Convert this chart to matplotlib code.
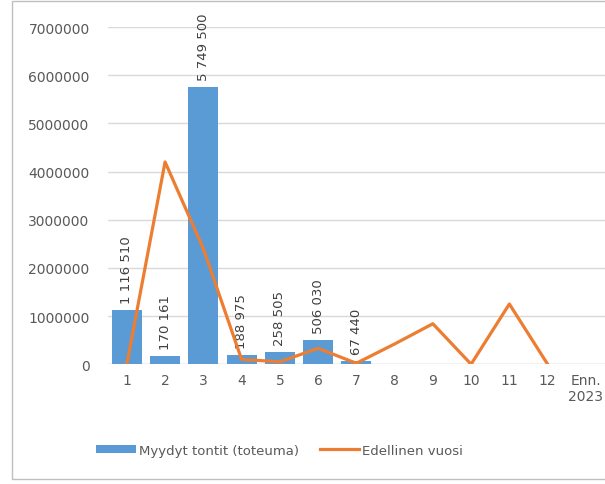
import matplotlib.pyplot as plt
import numpy as np
from matplotlib.patches import Rectangle

categories = ["1", "2", "3", "4", "5", "6", "7", "8", "9", "10", "11", "12", "Enn.\n2023"]
toteuma = [1116510, 170161, 5749500, 188975, 258505, 506030, 67440]
edellinen = [0, 4200000, 2400000, 100000, 50000, 330000, 20000, 420000, 840000, 0, 1250000, 0]

BLUE = "#5B9BD5"
ORANGE = "#ED7D31"
GRAY = "#595959"


def fmt(v):
    return f"{v:,}".replace(",", " ")


fig = plt.figure(figsize=(6.05, 4.85), dpi=100)
ax = fig.add_axes([0.178, 0.247, 0.822, 0.695])

x = np.arange(len(categories))
xb = x[:len(toteuma)]
bars = ax.bar(xb, toteuma, width=0.78, color=BLUE, zorder=2, label="Myydyt tontit (toteuma)")
for xi, v in zip(xb, toteuma):
    ax.annotate(fmt(v), (xi, v), xytext=(0, 5), textcoords="offset points",
                rotation=90, ha="center", va="bottom", fontsize=9.5, color="#404040")

line, = ax.plot(x[:len(edellinen)], edellinen, color=ORANGE, lw=2.3, zorder=3,
                solid_joinstyle="round", label="Edellinen vuosi")

ax.set_xlim(-0.5, len(categories) - 0.5)
ax.set_ylim(0, 7000000)
ax.set_yticks(np.arange(0, 7000001, 1000000))
ax.set_yticklabels([str(v) for v in range(0, 7000001, 1000000)])
ax.set_xticks(x)
ax.set_xticklabels(categories)
ax.tick_params(axis="both", length=0, colors=GRAY, labelsize=10)
ax.tick_params(axis="y", pad=13)
ax.tick_params(axis="x", pad=6)
ax.grid(axis="y", color="#D9D9D9", lw=1, zorder=0)
for s in ax.spines.values():
    s.set_visible(False)
ax.axhline(0, color="#D9D9D9", lw=1, zorder=1)

leg = fig.legend([bars, line], ["Myydyt tontit (toteuma)", "Edellinen vuosi"],
                 loc="center", bbox_to_anchor=(0.462, 0.07), ncol=2, frameon=False,
                 fontsize=9.5, handlelength=3.0, handleheight=0.5, columnspacing=1.6,
                 handletextpad=0.2)
for t in leg.get_texts():
    t.set_color(GRAY)

fig.patches.append(Rectangle((12 / 605, 5 / 485), 0.99, 0.985, transform=fig.transFigure,
                             fill=False, edgecolor="#BFBFBF", lw=1))

fig.savefig("out.png", dpi=100)
